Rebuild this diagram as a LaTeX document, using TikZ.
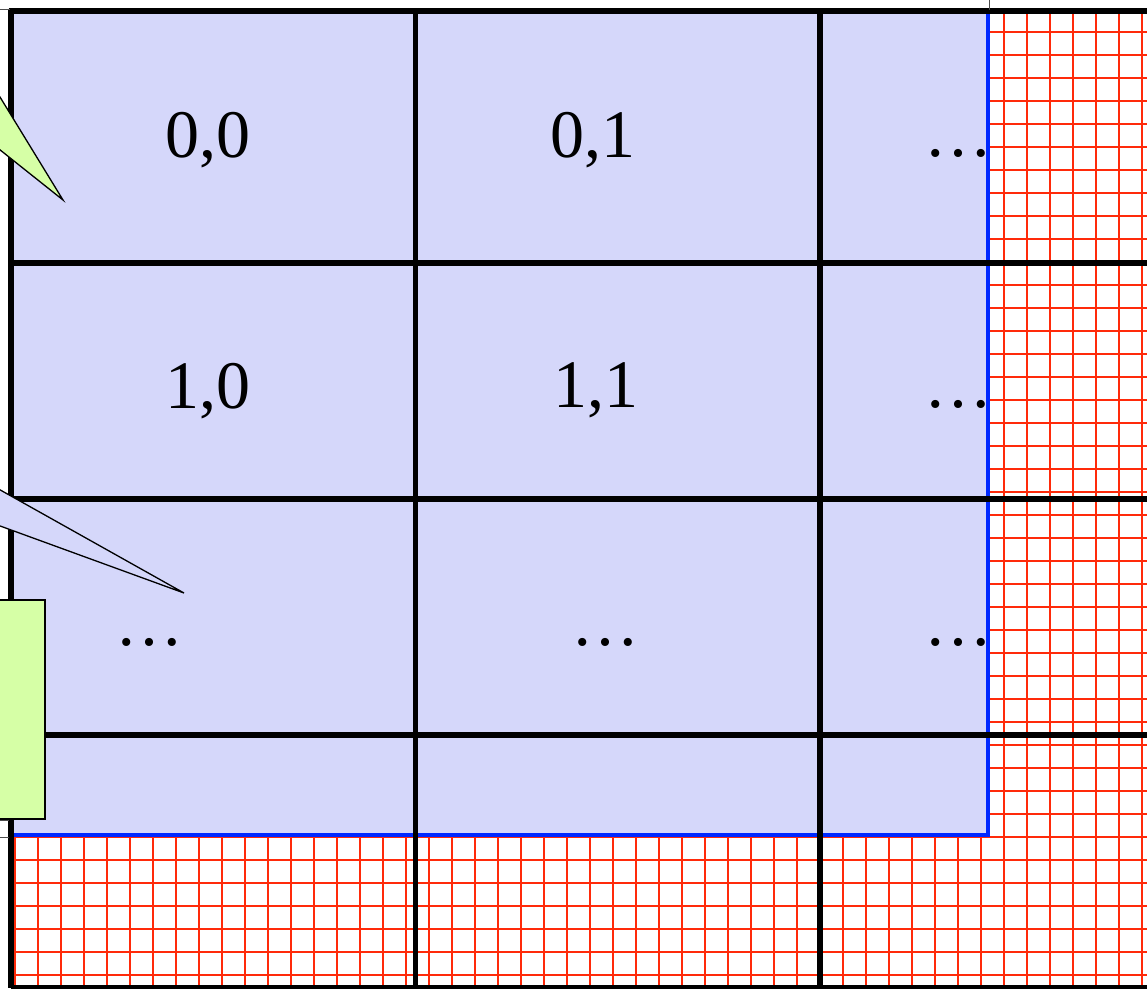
\documentclass[tikz,border=0pt]{standalone}
\usepackage{fontspec}
\setmainfont{Liberation Serif}
\definecolor{lav}{RGB}{213,215,250}
\definecolor{gridred}{RGB}{255,42,10}
\definecolor{bordblue}{RGB}{0,40,255}
\definecolor{callgreen}{RGB}{214,255,166}
\tikzset{
  gridline/.style={draw=gridred, line width=2.2pt},
  heavy/.style={draw=black, line width=5.5pt},
  lbl/.style={anchor=base, inner sep=0pt, font=\fontsize{68}{82}\selectfont},
  callout/.style={draw=black, line width=1.3pt, line join=miter},
  hairline/.style={draw=black!70, line width=0.8pt}
}
\begin{document}
\begin{tikzpicture}[x=1pt,y=-1pt]
\clip (0,0) rectangle (1147,988);
\fill[white] (0,0) rectangle (1147,988);
% red grid
\begin{scope}
  \clip (11,11) rectangle (1147,988);
  \foreach \i in {0,...,49} \draw[gridline] ({15+23*\i},0) -- ({15+23*\i},988);
  \foreach \j in {0,...,43} \draw[gridline] (0,{9+23*\j}) -- (1147,{9+23*\j});
\end{scope}
% lavender block with blue border
\draw[fill=lav, draw=bordblue, line width=4pt] (11,11) rectangle (988,835);
% heavy black grid
\draw[heavy] (8.5,11) -- (1147,11);
\draw[heavy] (11,8.5) -- (11,988);
\draw[heavy] (415.5,11) -- (415.5,988);
\draw[heavy] (820,11) -- (820,988);
\draw[heavy] (11,263) -- (1147,263);
\draw[heavy] (11,499) -- (1147,499);
\draw[heavy] (11,735) -- (1147,735);
\draw[heavy] (11,988) -- (1147,988);
% labels
\node[lbl] (t00) at (208,157) {0,0};
\node[lbl] (t01) at (593,157) {0,1};
\node[lbl] (t02) at (958,156) {…};
\node[lbl] (t10) at (208,408) {1,0};
\node[lbl] (t11) at (596,407) {1,1};
\node[lbl] (t12) at (958,407) {…};
\node[lbl] (t20) at (149,645) {…};
\node[lbl] (t21) at (605,645) {…};
\node[lbl] (t22) at (958,645) {…};
% callouts
\draw[callout, fill=callgreen] (-30,48) -- (63,200) -- (-30,126) -- cycle;
\draw[callout, fill=lav] (-30,473) -- (184,593) -- (-30,515) -- cycle;
\draw[callout, fill=callgreen] (-30,600) rectangle (45,819);
% thin fragments of surrounding shapes
\draw[hairline] (0,9) -- (10,9);
\draw[hairline] (989,0) -- (989,10);
\draw[hairline] (0,820.5) -- (9,820.5);
\draw[hairline] (0,837) -- (9,837);
\end{tikzpicture}
\end{document}
